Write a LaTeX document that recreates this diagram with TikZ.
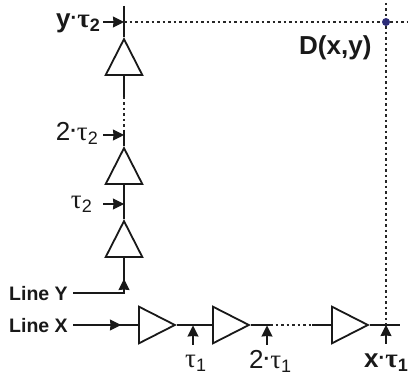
\documentclass[tikz,border=0pt]{standalone}
\usepackage{fontspec}
\setmainfont{Liberation Sans}
\newfontfamily\taufont{Liberation Serif}
\usetikzlibrary{shapes.geometric,arrows.meta}
\definecolor{dotblue}{RGB}{45,45,120}
\newcommand{\tauof}[1]{{\fontsize{27}{27}\selectfont\taufont τ}\raisebox{-4pt}{\fontsize{18}{18}\selectfont #1}}
\newcommand{\mydot}{\raisebox{3pt}{\fontsize{20}{20}\selectfont\textbf{·}}}
\tikzset{
  x=1pt,y=-1pt,
  wire/.style={line width=1.8pt,draw=black!90},
  dotwire/.style={line width=2pt,draw=black!85,dash pattern=on 2.5pt off 3pt},
  thin arrow/.style={line width=1.3pt,draw=black!90,-{Stealth[length=11pt,width=11pt,inset=0.5pt]}},
  buf/.style={shape=isosceles triangle,draw=black!90,line width=1.8pt,fill=white,inner sep=0pt,
    isosceles triangle apex angle=54,minimum height=36pt,minimum width=36pt,anchor=lower side},
  bufup/.style={buf,shape border rotate=90},
  bufright/.style={buf,shape border rotate=0},
  big/.style={font=\fontsize{26}{26}\selectfont,inner sep=0pt,text=black!90},
  bigb/.style={font=\fontsize{26}{26}\selectfont\bfseries,inner sep=0pt,text=black!90},
  lab/.style={font=\fontsize{19.5}{20}\selectfont\bfseries,inner sep=0pt,text=black!90}
}
\begin{document}
\begin{tikzpicture}
\useasboundingbox[fill=white] (0,0) rectangle (408,379);
% buffers
\node[bufup] (v1) at (124,76) {};
\node[bufup] (v2) at (124,185) {};
\node[bufup] (v3) at (124,258) {};
\node[bufright] (h1) at (138,325) {};
\node[bufright] (h2) at (212,325) {};
\node[bufright] (h3) at (331,325) {};
% coordinates
\coordinate (top) at (124,6);
\coordinate (ytap) at (124,22);
\coordinate (ds1) at (124,97);
\coordinate (ds2) at (124,130);
\coordinate (t2tap) at (124,135);
\coordinate (t1tap) at (124,204);
\coordinate (corner) at (124,293);
\coordinate (ya) at (73,293);
\coordinate (xa) at (73,325);
\coordinate (xarrow) at (121,325);
\coordinate (hs1) at (270,325);
\coordinate (hs2) at (312,325);
\coordinate (xend) at (400,325);
\coordinate (xtap) at (386,325);
\coordinate (a1) at (193,325.5);
\coordinate (a2) at (267,325.5);
\coordinate (a1b) at (193,345);
\coordinate (a2b) at (267,345);
\coordinate (a3b) at (386,344);
\coordinate (yarrow) at (124,279);
\coordinate (dtop) at (386,3);
\coordinate (dleft) at (124,22);
\coordinate (dright) at (408,22);
\coordinate (ya1) at (103,22);
\coordinate (ya2) at (103,135);
\coordinate (ya3) at (103,204);
% dot
\node[circle,fill=dotblue,inner sep=0pt,minimum size=8pt] (D) at (386,22) {};
% wires
\draw[wire] (top) -- (v1.apex);
\draw[wire] (v1.lower side) -- (ds1);
\draw[dotwire] (ds1) -- (ds2);
\draw[wire] (ds2) -- (v2.apex);
\draw[wire] (v2.lower side) -- (v3.apex);
\draw[wire] (v3.lower side) -- (corner) -- (ya);
\draw[wire] (xa) -- (h1.lower side);
\draw[wire] (h1.apex) -- (h2.lower side);
\draw[wire] (h2.apex) -- (hs1);
\draw[dotwire] (hs1) -- (hs2);
\draw[wire] (hs2) -- (h3.lower side);
\draw[wire] (h3.apex) -- (xend);
\draw[dotwire] (dleft) -- (D) -- (dright);
\draw[dotwire] (dtop) -- (D) -- (xtap);
% arrows
\draw[thin arrow] (ya1) -- (ytap);
\draw[thin arrow] (ya2) -- (t2tap);
\draw[thin arrow] (ya3) -- (t1tap);
\draw[thin arrow] (corner) -- (yarrow);
\draw[thin arrow] (xa) -- (xarrow);
\draw[thin arrow] (a1b) -- (a1);
\draw[thin arrow] (a2b) -- (a2);
\draw[thin arrow] (a3b) -- (xtap);
% labels
\node[bigb,anchor=mid east] (ly) at (100,25) {y\mydot\tauof{2}};
\node[big,anchor=mid east] (l2y) at (98,138) {2\mydot\tauof{2}};
\node[big,anchor=mid east] (l1y) at (92,206) {\tauof{2}};
\node[lab,anchor=mid west] (lineY) at (9,298) {Line Y};
\node[lab,anchor=mid west] (lineX) at (9,330) {Line X};
\node[big,anchor=mid west] (t1) at (185,365) {\tauof{1}};
\node[big,anchor=mid west] (t2) at (249,366) {2\mydot\tauof{1}};
\node[bigb,anchor=mid west] (tx) at (364,365) {x\mydot\tauof{1}};
\node[bigb,anchor=mid west] (dxy) at (299,52) {D(x,y)};
\end{tikzpicture}
\end{document}
